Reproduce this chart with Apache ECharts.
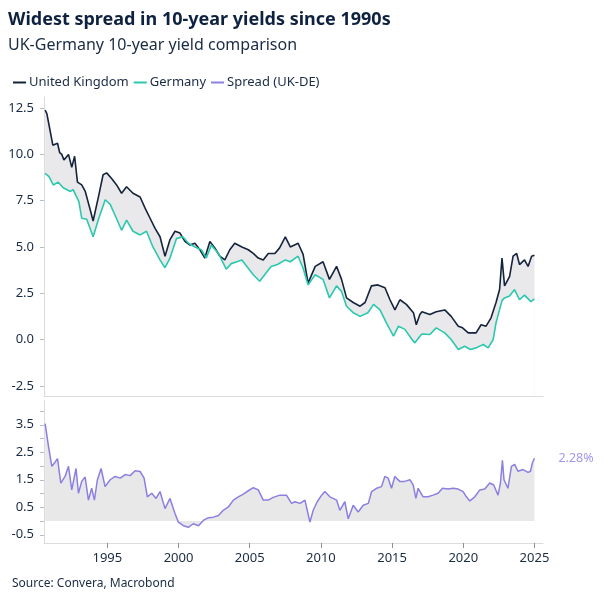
<!DOCTYPE html>
<html style="height: 100%">
<head>
    <meta charset="utf-8">
    <title>UK-Germany 10-year yield comparison</title>
    <script type="text/javascript" src="https://cdn.jsdelivr.net/npm/echarts@6/dist/echarts.min.js"></script>
</head>
<body style="height: 100%; margin: 0; background: #fff">
    <div id="container" style="width: 604px; height: 604px"></div>
    <script type="text/javascript">
        // UK 10-year yield (decimal year, %)
        var ukYears = [1990.63, 1990.75, 1990.9, 1991.17, 1991.3, 1991.5, 1991.65, 1991.8, 1991.95, 1992.27,
            1992.5, 1992.7, 1992.9, 1993.2, 1993.45, 1993.8, 1994.0, 1994.4, 1994.7, 1994.95,
            1995.3, 1995.65, 1996.0, 1996.35, 1996.8, 1997.3, 1997.65, 1998.0, 1998.35, 1998.7,
            1999.05, 1999.4, 1999.75, 2000.1, 2000.45, 2000.8, 2001.15, 2001.5, 2001.85, 2002.2,
            2002.55, 2002.9, 2003.25, 2003.6, 2003.95, 2004.45, 2004.9, 2005.25, 2005.6, 2005.95,
            2006.3, 2006.77, 2007.1, 2007.5, 2007.85, 2008.4, 2008.75, 2009.1, 2009.6, 2010.15,
            2010.6, 2011.1, 2011.45, 2011.8, 2012.27, 2012.75, 2013.1, 2013.55, 2014.0, 2014.5,
            2014.85, 2015.2, 2015.55, 2016.0, 2016.5, 2016.7, 2016.95, 2017.1, 2017.65, 2018.1,
            2018.7, 2019.15, 2019.65, 2019.95, 2020.35, 2020.9, 2021.25, 2021.6, 2021.95, 2022.3,
            2022.55, 2022.72, 2022.9, 2023.25, 2023.5, 2023.75, 2023.95, 2024.3, 2024.55, 2024.8, 2025.0];
        var ukYields = [12.39, 12.2, 11.6, 10.5, 10.4, 10.6, 10.1, 10.0, 9.7, 10.0,
            9.3, 9.9, 8.5, 8.35, 8.0, 7.0, 6.4, 7.8, 8.9, 9.0,
            8.7, 8.35, 7.9, 8.25, 7.9, 7.7, 7.1, 6.55, 6.0, 5.55,
            4.5, 5.4, 5.85, 5.75, 5.3, 5.1, 5.2, 4.85, 4.4, 5.3,
            4.95, 4.5, 4.3, 4.85, 5.2, 5.0, 4.85, 4.65, 4.4, 4.3,
            4.65, 4.65, 4.95, 5.55, 5.0, 5.2, 4.6, 3.05, 3.95, 4.2,
            3.25, 3.95, 3.25, 2.25, 2.0, 1.8, 2.0, 2.9, 2.95, 2.8,
            2.15, 1.6, 2.15, 1.9, 1.45, 0.8, 1.35, 1.5, 1.35, 1.5,
            1.6, 1.25, 0.72, 0.63, 0.36, 0.36, 0.8, 0.72, 1.17, 2.0,
            2.7, 4.4, 2.9, 3.4, 4.5, 4.65, 4.05, 4.3, 3.95, 4.5, 4.55];

        // Germany 10-year yield (decimal year, %)
        var deYears = [1990.63, 1990.9, 1991.2, 1991.55, 1991.9, 1992.4, 1992.6, 1993.0, 1993.2, 1993.55,
            1994.0, 1994.4, 1994.85, 1995.2, 1995.55, 1996.0, 1996.35, 1996.8, 1997.3, 1997.75,
            1998.2, 1998.7, 1999.05, 1999.4, 1999.85, 2000.3, 2000.7, 2001.15, 2001.6, 2001.95,
            2002.3, 2002.8, 2003.35, 2003.7, 2004.1, 2004.45, 2004.8, 2005.25, 2005.7, 2006.05,
            2006.5, 2006.95, 2007.5, 2007.85, 2008.4, 2008.75, 2009.1, 2009.6, 2010.15, 2010.6,
            2011.1, 2011.45, 2011.8, 2012.27, 2012.75, 2013.3, 2013.7, 2014.15, 2014.6, 2015.1,
            2015.45, 2015.9, 2016.4, 2016.6, 2016.95, 2017.1, 2017.65, 2018.1, 2018.7, 2019.15,
            2019.65, 2020.1, 2020.5, 2020.9, 2021.4, 2021.75, 2022.1, 2022.3, 2022.72, 2022.9,
            2023.25, 2023.6, 2023.95, 2024.3, 2024.75, 2025.0];
        var deYields = [8.98, 8.8, 8.35, 8.5, 8.2, 8.0, 8.1, 7.45, 6.55, 6.5,
            5.55, 6.55, 7.55, 7.3, 6.7, 5.9, 6.45, 5.85, 5.65, 5.85,
            5.0, 4.3, 3.88, 4.4, 5.45, 5.55, 5.2, 5.0, 4.85, 4.4,
            5.1, 4.65, 3.8, 4.1, 4.2, 4.3, 3.95, 3.5, 3.15, 3.5,
            3.95, 4.05, 4.3, 4.2, 4.5, 3.85, 2.95, 3.5, 3.25, 2.25,
            2.9, 2.6, 1.8, 1.45, 1.25, 1.45, 1.9, 1.6, 0.9, 0.18,
            0.72, 0.55, 0.0, -0.18, 0.18, 0.3, 0.27, 0.63, 0.36, 0.0,
            -0.54, -0.36, -0.54, -0.45, -0.27, -0.45, 0.0, 0.9, 2.1, 2.25,
            2.35, 2.7, 2.15, 2.4, 2.05, 2.2];

        // Spread UK - DE (decimal year, %-points)
        var spreadYears = [1990.63, 1990.86, 1991.1, 1991.3, 1991.5, 1991.73, 1992.03, 1992.27, 1992.5, 1992.8,
            1992.97, 1993.2, 1993.44, 1993.67, 1993.9, 1994.09, 1994.3, 1994.56, 1994.84, 1995.2,
            1995.54, 1995.9, 1996.25, 1996.6, 1996.95, 1997.3, 1997.58, 1997.81, 1998.12, 1998.42,
            1998.7, 1999.05, 1999.4, 1999.75, 1999.99, 2000.34, 2000.69, 2001.04, 2001.4, 2001.74,
            2002.1, 2002.44, 2002.8, 2003.14, 2003.5, 2003.85, 2004.2, 2004.55, 2004.9, 2005.25,
            2005.6, 2005.95, 2006.3, 2006.65, 2007.12, 2007.58, 2007.94, 2008.17, 2008.53, 2008.88,
            2009.04, 2009.23, 2009.46, 2009.74, 2010.05, 2010.28, 2010.63, 2011.1, 2011.33, 2011.68,
            2011.92, 2012.27, 2012.62, 2012.97, 2013.33, 2013.56, 2013.91, 2014.26, 2014.49, 2014.72,
            2014.96, 2015.19, 2015.54, 2015.89, 2016.25, 2016.48, 2016.67, 2016.83, 2017.18, 2017.53,
            2017.88, 2018.23, 2018.54, 2018.93, 2019.29, 2019.64, 2019.99, 2020.22, 2020.46, 2020.81,
            2021.16, 2021.51, 2021.86, 2022.14, 2022.44, 2022.61, 2022.75, 2022.86, 2023.14, 2023.38,
            2023.61, 2023.84, 2024.2, 2024.55, 2024.72, 2024.86, 2025.0];
        var spreadVals = [3.54, 2.73, 1.99, 2.12, 2.27, 1.38, 1.62, 1.99, 1.13, 1.91,
            1.01, 1.44, 1.6, 0.76, 1.19, 0.76, 1.5, 1.91, 1.25, 1.5,
            1.62, 1.56, 1.69, 1.65, 1.83, 1.8, 1.56, 0.88, 1.01, 0.82,
            1.07, 0.45, 0.82, 0.27, -0.04, -0.17, -0.23, -0.1, -0.17, 0.02,
            0.12, 0.14, 0.2, 0.39, 0.51, 0.76, 0.88, 0.98, 1.1, 1.21,
            1.13, 0.76, 0.76, 0.86, 0.94, 0.94, 0.64, 0.7, 0.64, 0.76,
            0.39, -0.04, 0.39, 0.7, 0.94, 1.07, 0.88, 0.76, 0.39, 0.7,
            0.08, 0.57, 0.33, 0.57, 0.64, 1.07, 1.19, 1.25, 1.62, 1.56,
            1.19, 1.62, 1.44, 1.44, 1.5, 1.31, 0.82, 1.19, 0.88, 0.88,
            0.94, 1.01, 1.19, 1.16, 1.19, 1.16, 1.07, 0.88, 0.73, 0.88,
            1.13, 1.16, 1.38, 1.31, 0.94, 1.38, 2.21, 1.5, 1.19, 1.99,
            2.06, 1.81, 1.87, 1.77, 1.81, 2.12, 2.28];

        var yearTicks = [1995, 2000, 2005, 2010, 2015, 2020, 2025];
        var topTicks = [-2.5, 0, 2.5, 5, 7.5, 10, 12.5];
        var bottomTicks = [-0.5, 0, 0.5, 1, 1.5, 2, 2.5, 3, 3.5, 4];
        var bottomLabels = [-0.5, 0.5, 1.5, 2.5, 3.5];

        function pairs(xs, ys) {
            var out = [];
            for (var i = 0; i < xs.length; i++) {
                out.push([xs[i], ys[i]]);
            }
            return out;
        }

        var uk = pairs(ukYears, ukYields);
        var de = pairs(deYears, deYields);
        var spread = pairs(spreadYears, spreadVals);

        var FONT = 'Noto Sans';
        var TEXT = '#1a2b44';
        var AXIS = '#dcdcdc';

        var myChart = echarts.init(document.getElementById('container'));

        var option = {
            animation: false,
            textStyle: { fontFamily: FONT },
            graphic: [
                {
                    type: 'text', left: 8, top: 11,
                    style: { text: 'Widest spread in 10-year yields since 1990s', fontSize: 18, fontWeight: 'bold', fontFamily: FONT, fill: '#0e2240' }
                },
                {
                    type: 'text', left: 8, top: 37,
                    style: { text: 'UK-Germany 10-year yield comparison', fontSize: 16, fontFamily: FONT, fill: TEXT }
                },
                {
                    type: 'text', left: 12, top: 578,
                    style: { text: 'Source: Convera, Macrobond', fontSize: 12, fontFamily: FONT, fill: TEXT }
                }
            ],
            legend: {
                left: 8,
                top: 71,
                icon: 'rect',
                itemWidth: 13,
                itemHeight: 2,
                itemGap: 5,
                textStyle: { fontSize: 13, color: TEXT, fontFamily: FONT, padding: [0, 0, 0, -2] },
                data: ['United Kingdom', 'Germany', 'Spread (UK-DE)']
            },
            grid: [
                { left: 44, right: 61, top: 97, height: 299 },
                { left: 44, right: 61, top: 400, height: 143 }
            ],
            xAxis: [
                {
                    type: 'value', gridIndex: 0, min: 1990.55, max: 2025.6, z: 10,
                    axisLine: { show: true, onZero: false, lineStyle: { color: AXIS } },
                    axisTick: { show: false },
                    axisLabel: { show: false },
                    splitLine: { show: false }
                },
                {
                    type: 'value', gridIndex: 1, min: 1990.55, max: 2025.6, z: 10,
                    axisLine: { show: true, onZero: false, lineStyle: { color: AXIS } },
                    axisTick: { show: true, length: 5, customValues: yearTicks, lineStyle: { color: '#8a8f99' } },
                    axisLabel: {
                        customValues: yearTicks, margin: 9, fontSize: 13, color: TEXT, fontFamily: FONT,
                        formatter: function (v) { return String(v); }
                    },
                    splitLine: { show: false }
                }
            ],
            yAxis: [
                {
                    type: 'value', gridIndex: 0, min: -3.05, max: 13.1,
                    axisLine: { show: true, onZero: false, lineStyle: { color: AXIS } },
                    axisTick: { show: true, length: 4, customValues: topTicks, lineStyle: { color: '#b8bcc4' } },
                    axisLabel: {
                        customValues: topTicks, margin: 10, fontSize: 13, color: TEXT, fontFamily: FONT,
                        formatter: function (v) { return v.toFixed(1); }
                    },
                    splitLine: { show: false }
                },
                {
                    type: 'value', gridIndex: 1, min: -0.8, max: 4.4,
                    axisLine: { show: true, onZero: false, lineStyle: { color: AXIS } },
                    axisTick: { show: true, length: 4, customValues: bottomTicks, lineStyle: { color: '#b8bcc4' } },
                    axisLabel: {
                        customValues: bottomLabels, margin: 10, fontSize: 13, color: TEXT, fontFamily: FONT,
                        formatter: function (v) { return v.toFixed(1); }
                    },
                    splitLine: { show: false }
                }
            ],
            series: [
                // grey band between the two yields: UK area, masked by a white area under Germany
                {
                    name: 'ukBand', type: 'line', xAxisIndex: 0, yAxisIndex: 0, data: uk,
                    symbol: 'none', silent: true, lineStyle: { width: 0 },
                    areaStyle: { color: '#e9e9eb', opacity: 1, origin: 'start' }
                },
                {
                    name: 'deMask', type: 'line', xAxisIndex: 0, yAxisIndex: 0, data: de,
                    symbol: 'none', silent: true, lineStyle: { width: 0 },
                    areaStyle: { color: '#ffffff', opacity: 1, origin: 'start' }
                },
                {
                    name: 'United Kingdom', type: 'line', xAxisIndex: 0, yAxisIndex: 0, data: uk,
                    symbol: 'none', color: '#15243d', lineStyle: { width: 1.6 }
                },
                {
                    name: 'Germany', type: 'line', xAxisIndex: 0, yAxisIndex: 0, data: de,
                    symbol: 'none', color: '#2bc8ae', lineStyle: { width: 1.6 }
                },
                {
                    name: 'Spread (UK-DE)', type: 'line', xAxisIndex: 1, yAxisIndex: 1, data: spread,
                    symbol: 'none', color: '#8c7fe2', lineStyle: { width: 1.5 },
                    areaStyle: { color: '#e8e8e8', opacity: 1 },
                    endLabel: {
                        show: true, distance: 24, fontSize: 12.5, color: '#a598ea', fontFamily: FONT,
                        formatter: function (p) { return p.value[1].toFixed(2) + '%'; }
                    }
                }
            ]
        };

        myChart.setOption(option);
    </script>
</body>
</html>
